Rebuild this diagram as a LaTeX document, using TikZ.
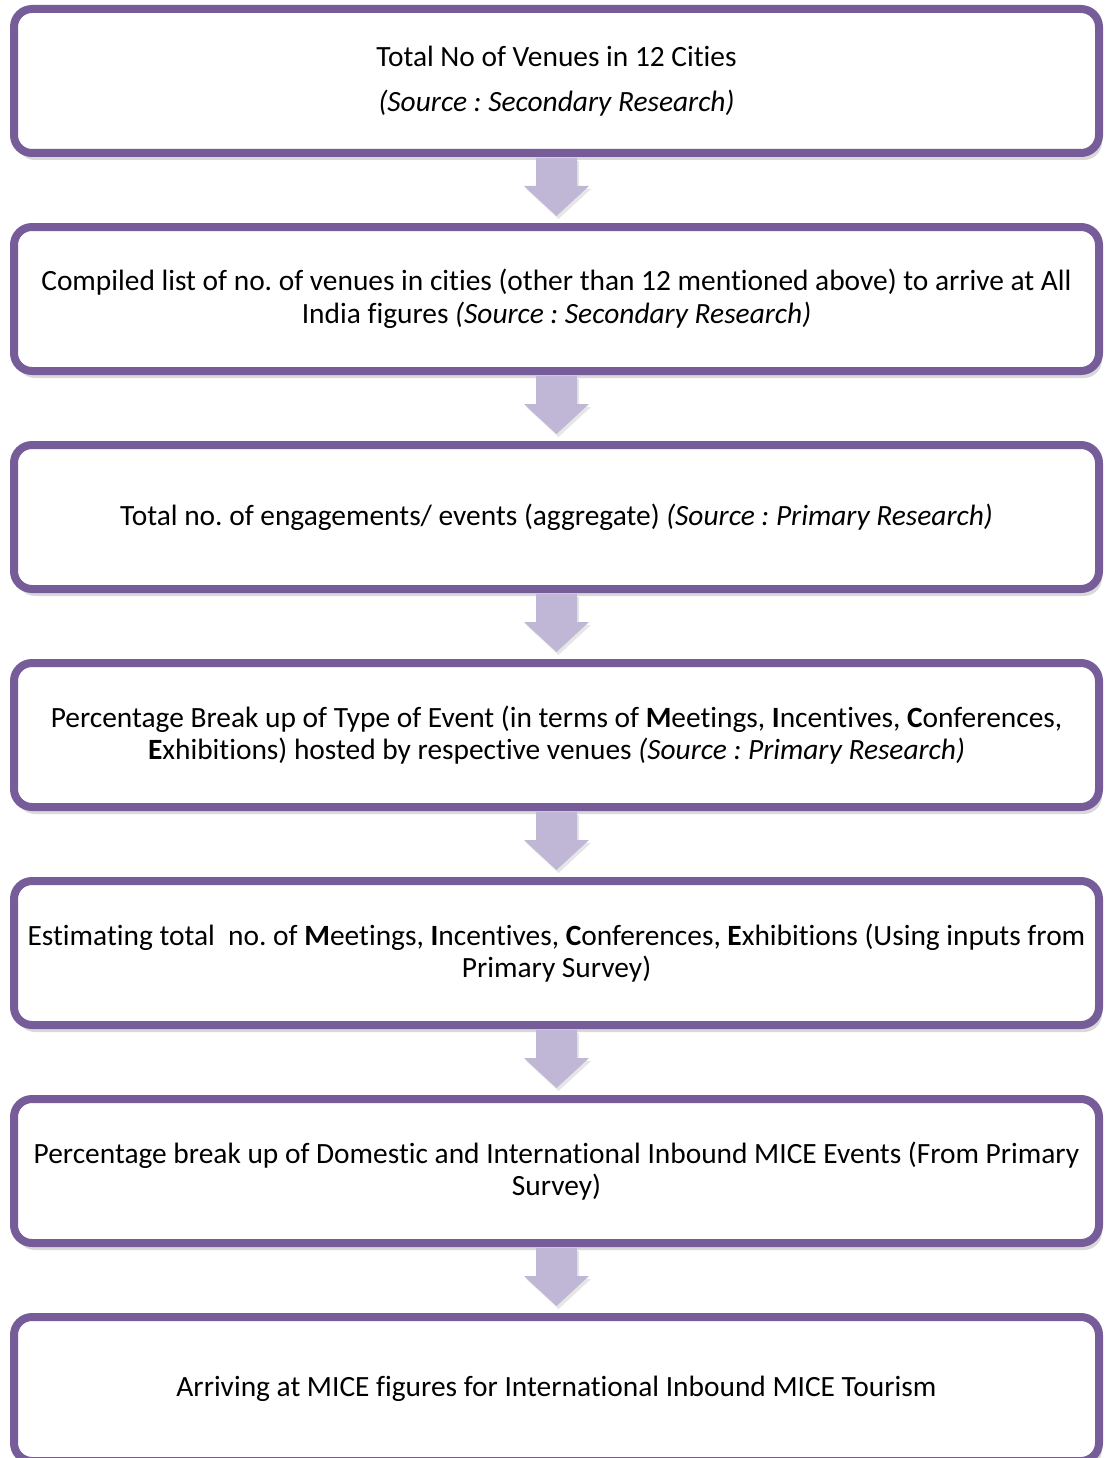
\documentclass[tikz,border=0pt]{standalone}
\usepackage{fontspec}
\setmainfont{Carlito}[Ligatures=NoCommon]
\frenchspacing
\usetikzlibrary{calc,shadows}

\definecolor{boxpurple}{HTML}{765D99}
\definecolor{arrowlilac}{HTML}{BFB7D5}

\tikzset{
  stagebox/.style={rectangle, rounded corners=18pt, draw=boxpurple, line width=8pt,
    fill=white, minimum width=1085pt, minimum height=144pt, align=center,
    font=\fontsize{29.4}{32.5}\selectfont,
    drop shadow={opacity=0.3, shadow xshift=3pt, shadow yshift=-7pt}},
  flowarrow/.style={fill=arrowlilac, draw=none,
    drop shadow={opacity=0.2, shadow xshift=2pt, shadow yshift=-3pt}}
}

% block arrow from the bottom of one box to the top of the next
\newcommand{\stagearrow}[2]{%
  \path[flowarrow] ($(#1.south)+(-20.5,-1)$) -- ++(41,0) -- ++(0,-28) -- ++(12,0)
    -- ($(#2.north)+(0,7)$) -- ($(#1.south)+(-32.5,-29)$) -- ++(12,0) -- cycle;}

\begin{document}
\begin{tikzpicture}[x=1pt, y=1pt]
\useasboundingbox (0,0) rectangle (1105,-1458);

\node[stagebox] (venues) at (556.5, -81) {Total No of Venues in 12 Cities\\[12pt]\textit{(Source : Secondary Research)}};
\node[stagebox] (alllist) at (556.5, -299) {Compiled list of no. of venues in cities (other than 12 mentioned above) to arrive at All\\India figures \textit{(Source : Secondary Research)}};
\node[stagebox] (events) at (556.5, -517) {Total no. of engagements/ events (aggregate) \textit{(Source : Primary Research)}};
\node[stagebox] (typebreak) at (556.5, -735) {Percentage Break up of Type of Event (in terms of \textbf{M}eetings, \textbf{I}ncentives, \textbf{C}onferences,\\\textbf{E}xhibitions) hosted by respective venues \textit{(Source : Primary Research)}};
\node[stagebox] (estimate) at (556.5, -953) {Estimating total\ \ no. of \textbf{M}eetings, \textbf{I}ncentives, \textbf{C}onferences, \textbf{E}xhibitions (Using inputs from\\Primary Survey)};
\node[stagebox] (domintl) at (556.5, -1171) {Percentage break up of Domestic and International Inbound MICE Events (From Primary\\Survey)};
\node[stagebox] (inbound) at (556.5, -1389) {Arriving at MICE figures for International Inbound MICE Tourism};

\stagearrow{venues}{alllist}
\stagearrow{alllist}{events}
\stagearrow{events}{typebreak}
\stagearrow{typebreak}{estimate}
\stagearrow{estimate}{domintl}
\stagearrow{domintl}{inbound}

\end{tikzpicture}
\end{document}
